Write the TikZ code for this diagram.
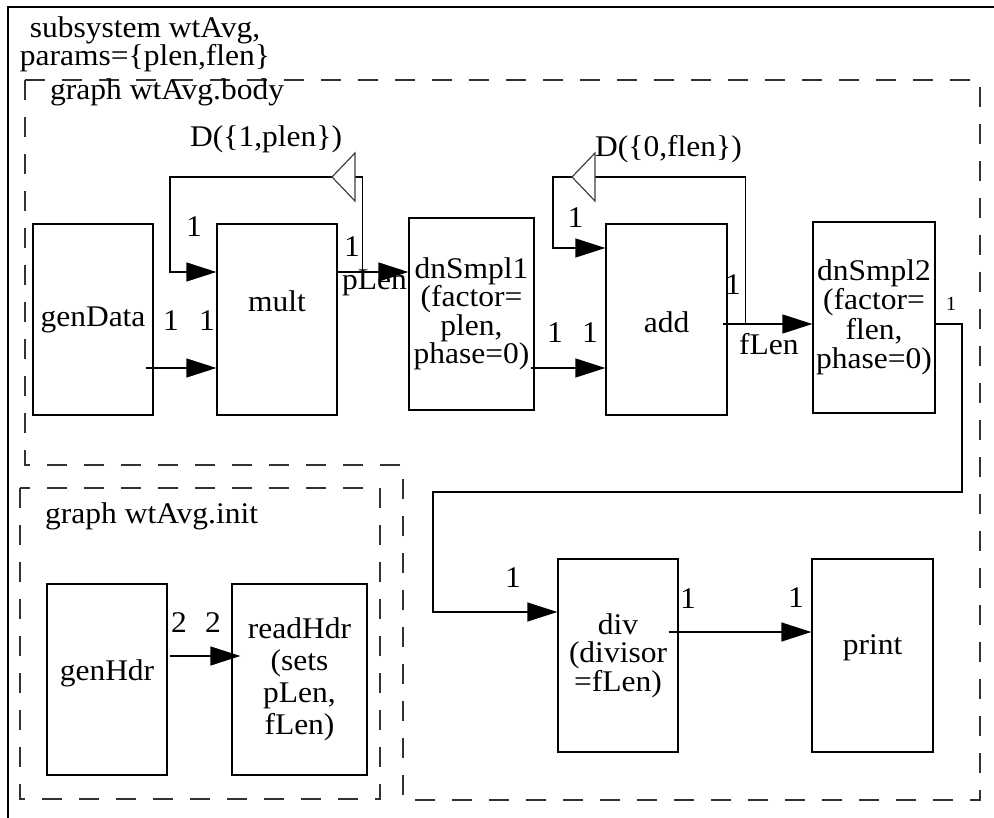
\documentclass[tikz,border=0pt]{standalone}
\usepackage{fontspec}
\setmainfont{Liberation Serif}[FakeStretch=1.05]
\usetikzlibrary{arrows.meta,positioning,calc}

\begin{document}
\begin{tikzpicture}[
  x=1pt, y=-1pt,
  font=\fontsize{30}{28.5}\selectfont,
  actor/.style={draw, line width=1.3pt, inner sep=0pt, align=center},
  port/.style={inner sep=0pt},
  smallport/.style={inner sep=0pt, font=\fontsize{20}{20}\selectfont},
  txt/.style={inner sep=0pt, anchor=base west},
  graphbox/.style={draw=black!80, line width=1.3pt, dash pattern=on 20pt off 17pt},
  wire/.style={line width=1.3pt},
  arrow/.style={wire, -{Triangle[length=30pt, width=19pt]}},
  delay/.style={draw=black!75, line width=1.2pt, fill=white}
]
  \useasboundingbox (0,0) rectangle (994,818);

  % subsystem frame
  \draw[line width=1.5pt] (994,7) -- (8,7) -- (8,818);
  \node[inner sep=0pt, align=center] (title) at (145,44.5)
    {subsystem wtAvg,\\params=\{plen,flen\}};

  % graph outlines
  \draw[graphbox] (25,80) -- (980,80) -- (980,800) -- (403,800) -- (403,465)
    -- (25,465) -- cycle;
  \draw[graphbox] (20,488) rectangle (380,799);
  \node[txt] (bodylbl) at (50,100) {graph wtAvg.body};
  \node[txt] (initlbl) at (45,523) {graph wtAvg.init};

  % actors of the body graph
  \node[actor, minimum width=120pt, minimum height=191pt] (genData) at (93,319.5) {genData};
  \node[actor, minimum width=120pt, minimum height=191pt, text depth=37.5pt] (mult)
    at (277,319.5) {mult};
  \node[actor, minimum width=125pt, minimum height=192pt] (dnSmpl1) at (471.5,314)
    {dnSmpl1\\(factor=\\plen,\\phase=0)};
  \node[actor, minimum width=121pt, minimum height=191pt, text height=27pt] (add)
    at (666.5,319.5) {add};
  \node[actor, minimum width=122pt, minimum height=191pt,
    font=\fontsize{30}{29.5}\selectfont] (dnSmpl2) at (874,317.5)
    {dnSmpl2\\(factor=\\flen,\\phase=0)};
  \node[actor, minimum width=120pt, minimum height=193pt] (div) at (618,655.5)
    {div\\(divisor\\=fLen)};
  \node[actor, minimum width=121pt, minimum height=193pt, text depth=21.5pt] (print)
    at (872.5,655.5) {print};

  % actors of the init graph
  \node[actor, minimum width=120pt, minimum height=191pt, text depth=19.5pt] (genHdr)
    at (107,679.5) {genHdr};
  \node[actor, minimum width=135pt, minimum height=191pt,
    font=\fontsize{30}{32}\selectfont] (readHdr) at (299.5,679.5)
    {readHdr\\(sets\\pLen,\\fLen)};

  % arcs
  \draw[arrow] ([xshift=-8pt, yshift=-48.5pt]genData.east) -- ([yshift=-48.5pt]mult.west);
  \draw[arrow] ([yshift=47.5pt]mult.east) -- ([yshift=42pt]dnSmpl1.west);
  \coordinate (loop1) at (170,177);
  \draw[arrow] ([xshift=25pt, yshift=47.5pt]mult.east) |- (loop1)
    |- ([yshift=47.5pt]mult.west);
  \draw[arrow] ([xshift=-4pt, yshift=-54pt]dnSmpl1.east) -- ([yshift=-48.5pt]add.west);
  \draw[arrow] ([xshift=-5pt, yshift=-4.5pt]add.east) -- ([yshift=-6.5pt]dnSmpl2.west);
  \coordinate (loop2) at (553,177);
  \draw[arrow] ([xshift=18pt, yshift=-4.5pt]add.east) |- (loop2)
    |- ([yshift=71.5pt]add.west);
  \coordinate (turn1) at (962,492);
  \coordinate (turn2) at (433,612);
  \draw[arrow] ([yshift=-6.5pt]dnSmpl2.east) -| (turn1) -| (turn2)
    -- ([yshift=43.5pt]div.west);
  \draw[arrow] ([xshift=-10pt, yshift=23.5pt]div.east) -- ([yshift=23.5pt]print.west);
  \draw[arrow] ([xshift=2pt, yshift=23.5pt]genHdr.east)
    -- ([xshift=9pt, yshift=23.5pt]readHdr.west);

  % delays
  \coordinate (dly1) at (355,177);
  \draw[delay] (dly1) ++(0,-24) -- ++(-23,24) -- ++(23,24) -- cycle;
  \coordinate (dly2) at (595,177);
  \draw[delay] (dly2) ++(0,-24) -- ++(-23,24) -- ++(23,24) -- cycle;
  \node[txt] (dlbl1) at (190,147) {D(\{1,plen\})};
  \node[txt] (dlbl2) at (595,157) {D(\{0,flen\})};

  % arc labels
  \node[txt] (plbl) at (342,290) {pLen};
  \node[txt] (flbl) at (739,355) {fLen};

  % port rates
  \node[port] (r1) at (194,227) {1};
  \node[port] (r2) at (352,247) {1};
  \node[port] (r3) at (171,321) {1};
  \node[port] (r4) at (207,321) {1};
  \node[port] (r5) at (555,333) {1};
  \node[port] (r6) at (590,333) {1};
  \node[port] (r7) at (575.5,217.5) {1};
  \node[port] (r8) at (733,285) {1};
  \node[smallport] (r9) at (951,303.5) {1};
  \node[port] (r10) at (513,578) {1};
  \node[port] (r11) at (688,599) {1};
  \node[port] (r12) at (796,598) {1};
  \node[port] (r13) at (179,622.5) {2};
  \node[port] (r14) at (213,622.5) {2};
\end{tikzpicture}
\end{document}
